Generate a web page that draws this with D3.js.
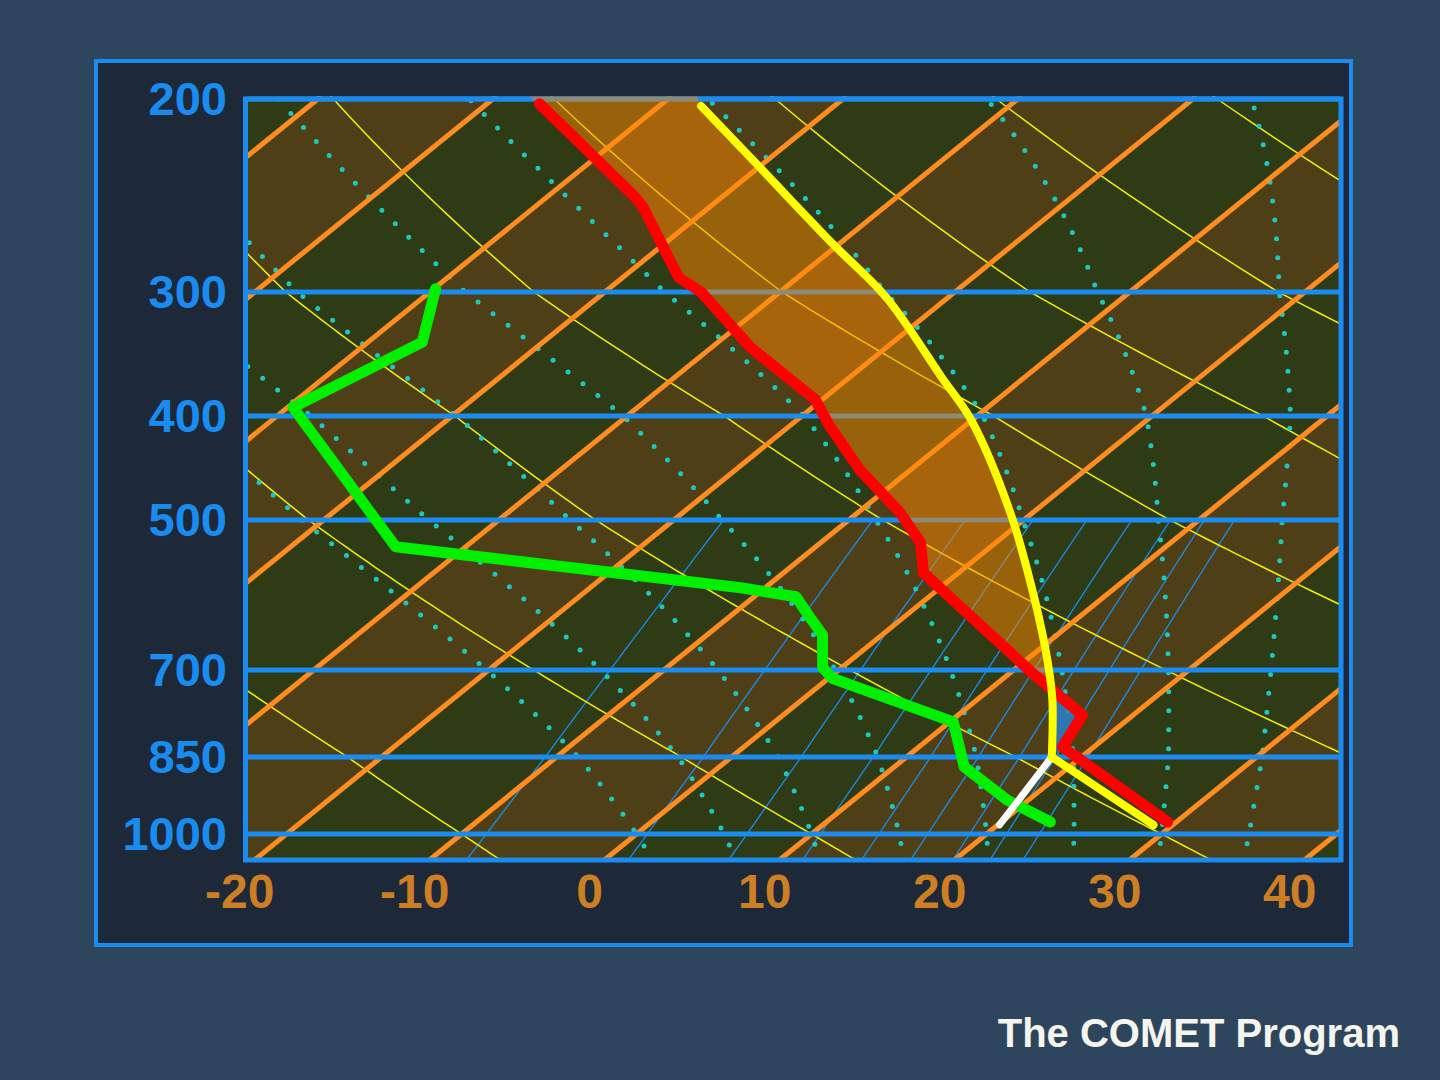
<!DOCTYPE html>
<html><head><meta charset="utf-8">
<script src="https://cdn.jsdelivr.net/npm/d3@7"></script>
<style>html,body{margin:0;padding:0;background:#2d465d;} svg{display:block}</style>
</head><body>
<svg id="c" width="1440" height="1080"></svg>
<script>
// ---------- data ----------
const pressureLevels = [200, 300, 400, 500, 700, 850, 1000];
const tempTicks = [-20, -10, 0, 10, 20, 30, 40];

// environmental temperature (red)
const tempP = [202, 246, 251, 291, 300, 341, 385, 408, 449, 492, 526, 563, 705, 774, 831, 975];
const tempT = [-57.0, -44.9, -43.8, -36.8, -34.5, -27.8, -20.4, -17.8, -12.9, -7.6, -4.3, -2.0, 11.3, 17.1, 18.2, 29.5];

// dewpoint (green)
const dewP = [298, 337, 392, 531, 582, 594, 619, 647, 696, 713, 786, 868, 931, 975];
const dewT = [-49.9, -46.9, -49.7, -34.0, -11.4, -7.6, -5.6, -3.4, -1.1, 0.2, 10.2, 14.0, 18.8, 22.8];

// lifted parcel (yellow)
const parcelP = [981, 850, 748, 688, 594, 492, 403, 366, 304, 271, 231, 203];
const parcelT = [28.9, 18.3, 14.3, 11.4, 6.0, -1.3, -10.1, -14.7, -23.5, -30.4, -39.9, -47.6];
const lclP = 850;

// surface mixing-ratio path to LCL (white)
const whiteP = [981, 850];
const whiteT = [20.1, 18.3];

// level of free convection and top edge of the CAPE area
const lfcP = 732, lfcT = 13.6;
const capeTopP = 199;
const capeTopT = [-58.1, -48.5];

// background reference-line parameters
const isothermValues = d3.range(-130, 70, 10);
const dryAdiabatThetaC = d3.range(-50, 230, 20);
const moistAdiabatThetaW = [0, 5, 10, 15, 20, 25, 30, 35];
const mixingRatios = [2, 4, 6, 8, 10, 12, 14, 16, 18];

// ---------- layout ----------
const svg = d3.select('#c');
const plot = {left: 247, right: 1340, top: 99, bottom: 860};
const SKEW = 1.233;
const y = d3.scaleLog()
  .domain([200, 300, 400, 500, 700, 850, 1000, 1055])
  .range([99, 292, 416, 520, 670, 757, 834, 860]);
const xT = d3.scaleLinear().domain([-20, 40]).range([254.5, 1304.5]);
const Xy = (T, yy) => xT(T) + SKEW * (plot.bottom - yy);
const X = (T, p) => Xy(T, y(p));

const C = {
  page: '#2d465d', frame: '#1d2838', blue: '#1a8cf0', green: '#2e3b14', brown: '#4e3f16',
  iso: '#ff8c1e', dry: '#f2f000', moist: '#1ec8be', tlabel: '#cd7f23'
};

svg.append('rect').attr('width', 1440).attr('height', 1080).attr('fill', C.page);
svg.append('rect').attr('x', 96).attr('y', 61).attr('width', 1255).attr('height', 884)
  .attr('fill', C.frame).attr('stroke', C.blue).attr('stroke-width', 4);

svg.append('defs').append('clipPath').attr('id', 'clip').append('rect')
  .attr('x', plot.left - 2).attr('y', plot.top - 3)
  .attr('width', plot.right - plot.left + 4).attr('height', plot.bottom - plot.top + 5);

const g = svg.append('g').attr('clip-path', 'url(#clip)');

// bands between isotherms
isothermValues.forEach(T => {
  const even = (((T / 10) % 2) + 2) % 2 === 0;
  const pts = [[Xy(T, plot.top - 3), plot.top - 3], [Xy(T + 10, plot.top - 3), plot.top - 3],
               [Xy(T + 10, plot.bottom + 3), plot.bottom + 3], [Xy(T, plot.bottom + 3), plot.bottom + 3]];
  g.append('polygon').attr('points', pts.map(d => d.join(',')).join(' '))
    .attr('fill', even ? C.green : C.brown);
});

const line = d3.line().x(d => X(d.t, d.p)).y(d => y(d.p));
const smooth = d3.line().x(d => X(d.t, d.p)).y(d => y(d.p)).curve(d3.curveCatmullRom.alpha(0.5));

// mixing ratio lines (500 hPa to bottom)
mixingRatios.forEach(w => {
  const pts = d3.range(500, 1061, 5).map(p => {
    const e = w * p / (622 + w);
    const L = Math.log(e / 6.112);
    return {p, t: 243.5 * L / (17.67 - L)};
  });
  g.append('path').attr('d', line(pts)).attr('fill', 'none')
    .attr('stroke', C.blue).attr('stroke-width', 1.3);
});

// dry adiabats
dryAdiabatThetaC.forEach(th => {
  const pts = d3.range(190, 1065, 5).map(p => ({p, t: (th + 273.15) * Math.pow(p / 1000, 0.2857) - 273.15}));
  g.append('path').attr('d', line(pts)).attr('fill', 'none')
    .attr('stroke', C.dry).attr('stroke-width', 1.5);
});

// moist (pseudo) adiabats, dotted
function dTdp(p, Tk) {
  const Tc = Tk - 273.15;
  const es = 6.112 * Math.exp(17.67 * Tc / (Tc + 243.5));
  const rs = 0.622 * es / (p - es);
  const Lv = 2.501e6, Rd = 287.04, Cp = 1005.7;
  return (Rd * Tk + Lv * rs) / (Cp + Lv * Lv * rs * 0.622 / (Rd * Tk * Tk)) / p;
}
moistAdiabatThetaW.forEach(tw => {
  const pts = [];
  let Tk = tw + 273.15;
  for (let pp = 1000; pp < 1060; pp += 1) { Tk += dTdp(pp, Tk); }
  for (let p = 1060; p >= 190; p -= 1) {
    if (p % 2 === 0) pts.push({p, t: Tk - 273.15});
    const k1 = dTdp(p, Tk);
    const k2 = dTdp(p - 0.5, Tk - 0.5 * k1);
    Tk -= k2;
  }
  g.append('path').attr('d', line(pts)).attr('fill', 'none')
    .attr('stroke', C.moist).attr('stroke-width', 5)
    .attr('stroke-linecap', 'round').attr('stroke-dasharray', '0 19');
});

// isotherms
isothermValues.forEach(T => {
  g.append('line').attr('x1', Xy(T, plot.top - 3)).attr('y1', plot.top - 3)
    .attr('x2', Xy(T, plot.bottom + 3)).attr('y2', plot.bottom + 3)
    .attr('stroke', C.iso).attr('stroke-width', 5);
});

// isobars
pressureLevels.forEach(p => {
  svg.append('line').attr('x1', plot.left).attr('x2', plot.right)
    .attr('y1', y(p)).attr('y2', y(p))
    .attr('stroke', C.blue).attr('stroke-width', 5);
});
svg.append('rect').attr('x', 245.5).attr('y', plot.top).attr('width', 1341 - 245.5)
  .attr('height', plot.bottom - plot.top).attr('fill', 'none')
  .attr('stroke', C.blue).attr('stroke-width', 5);

// labels
svg.append('g').selectAll('text').data(pressureLevels).join('text')
  .attr('x', 227).attr('y', d => y(d) + 16).attr('text-anchor', 'end')
  .attr('font-family', '"Liberation Sans", Arial, sans-serif').attr('font-weight', 'bold')
  .attr('font-size', 47).attr('fill', C.blue).text(d => d);
svg.append('g').selectAll('text').data(tempTicks).join('text')
  .attr('x', d => Xy(d, 872)).attr('y', 908).attr('text-anchor', 'middle')
  .attr('font-family', '"Liberation Sans", Arial, sans-serif').attr('font-weight', 'bold')
  .attr('font-size', 48).attr('fill', C.tlabel).text(d => d);

// sounding data
const temp = tempP.map((p, i) => ({p, t: tempT[i]}));
const dew = dewP.map((p, i) => ({p, t: dewT[i]}));
const parcel = parcelP.map((p, i) => ({p, t: parcelT[i]}));
const white = whiteP.map((p, i) => ({p, t: whiteT[i]}));
const lfc = {p: lfcP, t: lfcT};

// CAPE (positive area)
const capePoly = [lfc]
  .concat(parcel.filter(d => d.p < lfcP))
  .concat([{p: capeTopP, t: capeTopT[1]}, {p: capeTopP, t: capeTopT[0]}])
  .concat(temp.filter(d => d.p < lfcP))
  .concat([lfc]);
svg.append('path').attr('d', line(capePoly) + 'Z')
  .attr('fill', '#ff8a00').attr('fill-opacity', 0.5);

// CIN (negative area)
const cinPoly = [lfc]
  .concat(temp.filter(d => d.p > lfcP && d.p <= 850))
  .concat(parcel.filter(d => d.p >= 748 && d.p <= 850).sort((a, b) => b.p - a.p))
  .concat([lfc]);
svg.append('path').attr('d', line(cinPoly) + 'Z')
  .attr('fill', '#2a80cc').attr('fill-opacity', 0.85);

const drawProfile = (gen, data, color, width) => svg.append('path').attr('d', gen(data))
  .attr('fill', 'none').attr('stroke', color).attr('stroke-width', width)
  .attr('stroke-linecap', 'round').attr('stroke-linejoin', 'round');

drawProfile(line, dew, '#00f000', 11);
drawProfile(line, temp, '#ff0000', 11);
drawProfile(line, white, '#ffffff', 7);
drawProfile(line, parcel.filter(d => d.p >= lclP), '#ffff00', 8);
drawProfile(smooth, parcel.filter(d => d.p <= lclP), '#ffff00', 8);

svg.append('text').attr('x', 1400).attr('y', 1047).attr('text-anchor', 'end')
  .attr('font-family', '"Liberation Sans", Arial, sans-serif').attr('font-weight', 'bold')
  .attr('font-size', 40).attr('fill', '#f5f5ee').text('The COMET Program');
</script>
</body></html>
